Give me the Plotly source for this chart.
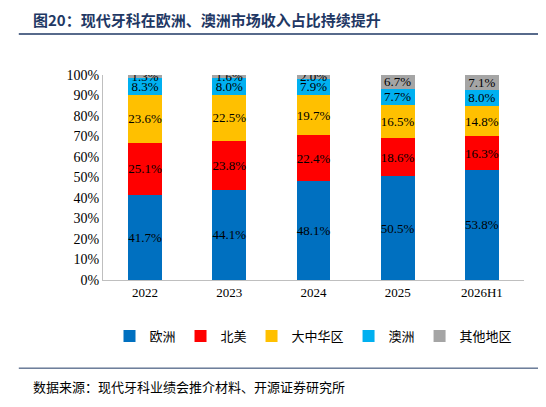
import plotly.graph_objects as go

years = ["2022", "2023", "2024", "2025", "2026H1"]
europe = [41.7, 44.1, 48.1, 50.5, 53.8]
north_america = [25.1, 23.8, 22.4, 18.6, 16.3]
greater_china = [23.6, 22.5, 19.7, 16.5, 14.8]
australia = [8.3, 8.0, 7.9, 7.7, 8.0]
others = [1.3, 1.6, 2.0, 6.7, 7.1]

series = [
    ("欧洲", europe, "#0070C0"),
    ("北美", north_america, "#FF0000"),
    ("大中华区", greater_china, "#FFC000"),
    ("澳洲", australia, "#00B0F0"),
    ("其他地区", others, "#A5A5A5"),
]

fig = go.Figure()
for name, vals, color in series:
    fig.add_trace(go.Bar(
        x=years, y=vals, name=name, marker={"color": color, "line": {"width": 0}},
        width=0.4,
        text=[f"{v:.1f}%" for v in vals], textposition="inside", textangle=0,
        insidetextanchor="middle", constraintext="none",
        textfont={"family": "Liberation Serif", "size": 13, "color": "black"},
    ))

fig.update_layout(
    barmode="stack", width=546, height=407,
    paper_bgcolor="white", plot_bgcolor="white",
    margin={"l": 95, "r": 30, "t": 67, "b": 135},
    font={"family": "Liberation Serif, Noto Sans CJK SC", "size": 13, "color": "black"},
    xaxis={"showline": True, "linecolor": "#BFBFBF", "ticks": "", "tickfont": {"size": 13}},
    yaxis={"range": [0, 100], "dtick": 10, "ticksuffix": "%", "showgrid": False,
           "showline": True, "linecolor": "#BFBFBF", "tickfont": {"size": 14}},
    legend={"orientation": "h", "x": 0.5, "xanchor": "center", "y": -0.2, "yanchor": "top",
            "font": {"family": "Noto Sans CJK SC", "size": 13}, "traceorder": "normal",
            "itemwidth": 30, "tracegroupgap": 0},
    showlegend=True,
)
fig.add_annotation(text="<b>图20：现代牙科在欧洲、澳洲市场收入占比持续提升</b>",
                   xref="paper", yref="paper", x=-0.17, y=1.27, xanchor="left", yanchor="middle",
                   showarrow=False, font={"family": "Noto Sans CJK SC", "size": 15, "color": "#1F3864"})
fig.add_annotation(text="数据来源：现代牙科业绩会推介材料、开源证券研究所",
                   xref="paper", yref="paper", x=-0.17, y=-0.52, xanchor="left", yanchor="middle",
                   showarrow=False, font={"family": "Noto Sans CJK SC", "size": 13, "color": "black"})
fig.add_shape(type="line", xref="paper", yref="paper", x0=-0.2, x1=1.05, y0=1.2, y1=1.2,
              line={"color": "#1F3864", "width": 1.5})
fig.add_shape(type="line", xref="paper", yref="paper", x0=-0.2, x1=1.05, y0=-0.43, y1=-0.43,
              line={"color": "#1F3864", "width": 1})
fig.write_html("out.html")
